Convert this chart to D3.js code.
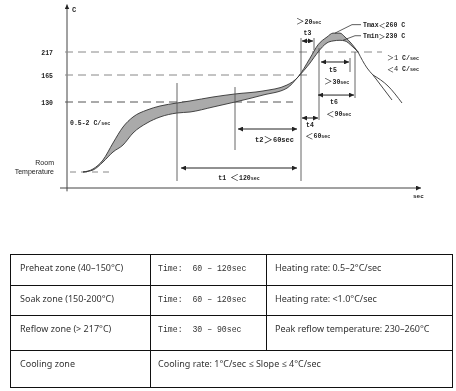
<!DOCTYPE html>
<html><head><meta charset="utf-8">
<script src="https://cdn.jsdelivr.net/npm/d3@7/dist/d3.min.js"></script>
<style>
html,body{margin:0;padding:0;background:#fff;}
svg{display:block;will-change:transform;}
.lbl{font-family:"Liberation Mono","DejaVu Sans Mono",monospace;font-weight:bold;fill:#222;}
.sym{font-family:"Noto Sans CJK SC",sans-serif;font-weight:normal;fill:#222;}
.tbl{font-family:"Noto Sans","Open Sans",sans-serif;fill:#333;}
.mono{font-family:"Liberation Mono",monospace;fill:#333;}
</style></head>
<body><svg id="c" width="456" height="391"></svg>
<script>
// ---------------- DATA ----------------
// reflow profile band (time in sec, temperature in °C)
const bandTime = [16,26,36,46,56,66,80,93,110,123,146,168,196,220,231,243,251,260,266,273,278,285,291];
const bandTmax = [25,29.5,43,68.5,92.5,107.5,118,124,128.5,131.3,136.5,140.4,144.3,152,162.4,203,228,240,246,246,240,229,217];
const bandTmin = [25,28,40,55,65.5,83.5,98.5,107.5,113.5,115,122.5,130,139,148,162.4,192,217,231,234,235,234,226,217];
// cooling part
const coolTime = [291,300,306];
const coolTemp = [217,181,165];
const tailFastTime = [306,316,325];
const tailFastTemp = [165,148,132.6];
const tailSlowTime = [306,321,335];
const tailSlowTemp = [165,150.7,128.5];
// reference temperature lines
const refTemps = [217,165,130];
const refLabels = ["217","165","130"];
const refEnds = [315,241,226];
const roomTemp = 25;
// y scale breakpoints (schematic, non-linear)
const yDomain = [25,130,165,217,260];
// guide lines: [sec, topTemp, bottomTemp]
const guides = [[110,154.6,11.5],[168,149.4,58],[234,238.5,11.5],[247,238.5,220],[252,223,103],[283,203.4,171.8],[288,217,135.2]];
// dimension arrows
const dimNames = ["t1","t2","t3","t4","t5","t6"];
const dimFrom  = [113,170,234,234,253,250];
const dimTo    = [231,231,247,252,283,288];
const dimTemp  = [31,89.5,233.9,106,194.4,139];
const dimSym   = ["＜","＞","＞","＜","＞","＜"];
const dimVal   = ["120","60","20","60","30","90"];

// ---------------- CHART ----------------
const svg = d3.select("#c");
const x = d3.scaleLinear().domain([0,354]).range([67,421]);
const y = d3.scaleLinear().domain(yDomain).range([172,102,75,52,24]);

const defs = svg.append("defs");
defs.append("marker").attr("id","ah").attr("viewBox","0 0 6 6").attr("refX",6).attr("refY",3)
  .attr("markerWidth",5).attr("markerHeight",5).attr("markerUnits","userSpaceOnUse")
  .attr("orient","auto-start-reverse")
  .append("path").attr("d","M0,0L6,3L0,6Z").attr("fill","#222");

// axes
svg.append("line").attr("x1",x(-7)).attr("x2",x(354)).attr("y1",y(1)).attr("y2",y(1))
  .attr("stroke","#444").attr("stroke-width",1).attr("marker-end","url(#ah)");
svg.append("line").attr("x1",x(0)).attr("x2",x(0)).attr("y1",y(-4)).attr("y2",y(290))
  .attr("stroke","#444").attr("stroke-width",1).attr("marker-end","url(#ah)");
svg.append("text").attr("class","lbl").attr("x",x(5)).attr("y",y(279)).attr("font-size",7).text("C");
svg.append("text").attr("class","lbl").attr("x",x(346)).attr("y",y(-14)).attr("font-size",6).text("sec");

// reference dashed lines
refTemps.forEach((t,i)=>{
  svg.append("line").attr("x1",x(-2)).attr("x2",x(refEnds[i])).attr("y1",y(t)).attr("y2",y(t))
    .attr("stroke",i===2?"#555":"#888").attr("stroke-width",1).attr("stroke-dasharray","8,5");
  svg.append("text").attr("class","lbl").attr("x",x(-14)).attr("y",y(t)+2.5)
    .attr("font-size",6.5).attr("text-anchor","end").text(refLabels[i]);
});
svg.append("line").attr("x1",x(3)).attr("x2",x(46)).attr("y1",y(roomTemp)).attr("y2",y(roomTemp))
  .attr("stroke","#888").attr("stroke-dasharray","6,5");
const room = svg.append("text").attr("font-family","Liberation Sans, Arial, sans-serif")
  .attr("font-size",7).attr("fill","#222").attr("text-anchor","end");
room.append("tspan").attr("x",54).attr("y",y(roomTemp)-7).text("Room");
room.append("tspan").attr("x",54).attr("y",y(roomTemp)+2).text("Temperature");

// band
const band = bandTime.map((t,i)=>({t,hi:bandTmax[i],lo:bandTmin[i]}));
svg.append("path").datum(band)
  .attr("d",d3.area().x(d=>x(d.t)).y0(d=>y(d.lo)).y1(d=>y(d.hi)).curve(d3.curveMonotoneX))
  .attr("fill","#aaa");
const ln = d3.line().x(d=>x(d.t)).y(d=>y(d.v)).curve(d3.curveMonotoneX);
const curveStyle = p => p.attr("fill","none").attr("stroke","#333").attr("stroke-width",0.9);
svg.append("path").datum(band.map(d=>({t:d.t,v:d.hi}))).attr("d",ln).call(curveStyle);
svg.append("path").datum(band.map(d=>({t:d.t,v:d.lo}))).attr("d",ln).call(curveStyle);
svg.append("path").datum(coolTime.map((t,i)=>({t,v:coolTemp[i]}))).attr("d",ln).call(curveStyle);
svg.append("path").datum(tailFastTime.map((t,i)=>({t,v:tailFastTemp[i]}))).attr("d",ln).call(curveStyle);
svg.append("path").datum(tailSlowTime.map((t,i)=>({t,v:tailSlowTemp[i]}))).attr("d",ln).call(curveStyle);

// guides
guides.forEach(g=>{
  svg.append("line").attr("x1",x(g[0])).attr("x2",x(g[0])).attr("y1",y(g[1])).attr("y2",y(g[2]))
    .attr("stroke","#555").attr("stroke-width",0.9);
});

// dimension arrows
dimNames.forEach((n,i)=>{
  svg.append("line").attr("x1",x(dimFrom[i])+1).attr("x2",x(dimTo[i])-1)
    .attr("y1",y(dimTemp[i])).attr("y2",y(dimTemp[i]))
    .attr("stroke","#222").attr("stroke-width",1)
    .attr("marker-start","url(#ah)").attr("marker-end","url(#ah)");
});
function specText(px,py,sym,val,anchor){
  const t = svg.append("text").attr("class","lbl").attr("x",px).attr("y",py).attr("font-size",6.5)
    .attr("text-anchor",anchor||"start");
  t.append("tspan").attr("class","sym").attr("font-size",8.5).attr("dy",0.5).text(sym);
  t.append("tspan").attr("dy",-0.5).text(val);
  t.append("tspan").attr("font-size",5).text("sec");
  return t;
}
const mid = i => (x(dimFrom[i])+x(dimTo[i]))/2;
// t1
{ const t = svg.append("text").attr("class","lbl").attr("x",mid(0)).attr("y",y(dimTemp[0])+12)
    .attr("font-size",6.5).attr("text-anchor","middle");
  t.append("tspan").text("t1 ");
  t.append("tspan").attr("class","sym").attr("font-size",9).attr("dy",0.5).text(dimSym[0]);
  t.append("tspan").attr("dy",-0.5).text(dimVal[0]);
  t.append("tspan").attr("font-size",5).text("sec"); }
// t2
{ const t = svg.append("text").attr("class","lbl").attr("x",mid(1)+7).attr("y",y(dimTemp[1])+13)
    .attr("font-size",7).attr("text-anchor","middle");
  t.append("tspan").text("t2");
  t.append("tspan").attr("class","sym").attr("font-size",9.5).attr("dy",0.5).text(dimSym[1]);
  t.append("tspan").attr("dy",-0.5).text(dimVal[1]+"sec"); }
// t3
svg.append("text").attr("class","lbl").attr("x",mid(2)).attr("y",y(dimTemp[2])-6).attr("font-size",6.5)
  .attr("text-anchor","middle").text("t3");
specText(x(dimFrom[2])-5,y(dimTemp[2])-17,dimSym[2],dimVal[2]);
// t4
svg.append("text").attr("class","lbl").attr("x",mid(3)).attr("y",y(dimTemp[3])+9).attr("font-size",6.5)
  .attr("text-anchor","middle").text("t4");
specText(x(dimFrom[3])+4,y(dimTemp[3])+20,dimSym[3],dimVal[3]);
// t5
svg.append("text").attr("class","lbl").attr("x",mid(4)-2).attr("y",y(dimTemp[4])+10).attr("font-size",6.5)
  .attr("text-anchor","middle").text("t5");
specText(x(dimFrom[4])+4,y(dimTemp[4])+22,dimSym[4],dimVal[4]);
// t6
svg.append("text").attr("class","lbl").attr("x",mid(5)-2).attr("y",y(dimTemp[5])+9).attr("font-size",6.5)
  .attr("text-anchor","middle").text("t6");
specText(x(dimFrom[5])+9,y(dimTemp[5])+21,dimSym[5],dimVal[5]);

// Tmax / Tmin leaders
const peakHi = 246, peakLo = 235;
svg.append("path").attr("d",`M${x(268)},${y(peakHi)}L${x(285)},${y(259)}L${x(294)},${y(259)}`)
  .attr("fill","none").attr("stroke","#333").attr("stroke-width",0.8);
svg.append("path").attr("d",`M${x(276)},${y(peakLo)}L${x(288)},${y(242)}L${x(294)},${y(242)}`)
  .attr("fill","none").attr("stroke","#333").attr("stroke-width",0.8);
function peakText(py,name,sym,val){
  const t = svg.append("text").attr("class","lbl").attr("x",x(296)).attr("y",py).attr("font-size",6.5);
  t.append("tspan").text(name);
  t.append("tspan").attr("class","sym").attr("font-size",7).attr("dy",0.5).text(sym);
  t.append("tspan").attr("dy",-0.5).text(val+" C");
}
peakText(y(259)+2.5,"Tmax","＜","260");
peakText(y(242)+2.5,"Tmin","＞","230");

// slopes
function rateText(px,py,sym,val){
  const t = svg.append("text").attr("class","lbl").attr("x",px).attr("y",py).attr("font-size",6.5);
  t.append("tspan").attr("class","sym").attr("font-size",7).attr("dy",0.5).text(sym);
  t.append("tspan").attr("dy",-0.5).attr("font-size",7).attr("font-weight","normal").text(val);
  t.append("tspan").text(" C/");
  t.append("tspan").attr("font-size",5).text("sec");
}
rateText(x(320),y(200),"＞","1");
rateText(x(320),y(174),"＜","4");
{ const t = svg.append("text").attr("class","lbl").attr("x",x(3)).attr("y",y(96)).attr("font-size",6.5);
  t.append("tspan").text("0.5-2 C/");
  t.append("tspan").attr("font-size",5).text("sec"); }

// ---------------- TABLE ----------------
const zoneNames = ["Preheat zone (40–150°C)","Soak zone (150-200°C)","Reflow zone (> 217°C)","Cooling zone"];
const timeSpecs = ["Time:  60 – 120sec","Time:  60 – 120sec","Time:  30 – 90sec",null];
const rateSpecs = ["Heating rate: 0.5–2°C/sec","Heating rate: <1.0°C/sec","Peak reflow temperature: 230–260°C","Cooling rate: 1°C/sec ≤ Slope ≤ 4°C/sec"];
const rowEdges = [254,285,315,350,387];
const colEdges = [10,150,266,452];

const tbl = svg.append("g");
tbl.append("rect").attr("x",colEdges[0]+0.5).attr("y",rowEdges[0]+0.5)
  .attr("width",colEdges[3]-colEdges[0]).attr("height",rowEdges[4]-rowEdges[0])
  .attr("fill","none").attr("stroke","#111");
rowEdges.slice(1,-1).forEach(r=>{
  tbl.append("line").attr("x1",colEdges[0]).attr("x2",colEdges[3]).attr("y1",r+0.5).attr("y2",r+0.5).attr("stroke","#111");
});
tbl.append("line").attr("x1",colEdges[1]+0.5).attr("x2",colEdges[1]+0.5).attr("y1",rowEdges[0]).attr("y2",rowEdges[4]).attr("stroke","#111");
tbl.append("line").attr("x1",colEdges[2]+0.5).attr("x2",colEdges[2]+0.5).attr("y1",rowEdges[0]).attr("y2",rowEdges[3]).attr("stroke","#111");
zoneNames.forEach((z,i)=>{
  const by = rowEdges[i]+16.5;
  tbl.append("text").attr("class","tbl").attr("x",colEdges[0]+10).attr("y",by).attr("font-size",9).text(z);
  if(timeSpecs[i]){
    tbl.append("text").attr("class","mono").attr("x",colEdges[1]+8).attr("y",by).attr("font-size",8.2)
      .attr("xml:space","preserve").style("white-space","pre").text(timeSpecs[i]);
    tbl.append("text").attr("class","tbl").attr("x",colEdges[2]+9).attr("y",by).attr("font-size",9).text(rateSpecs[i]);
  } else {
    tbl.append("text").attr("class","tbl").attr("x",colEdges[1]+8).attr("y",by).attr("font-size",9).text(rateSpecs[i]);
  }
});
</script></body></html>
